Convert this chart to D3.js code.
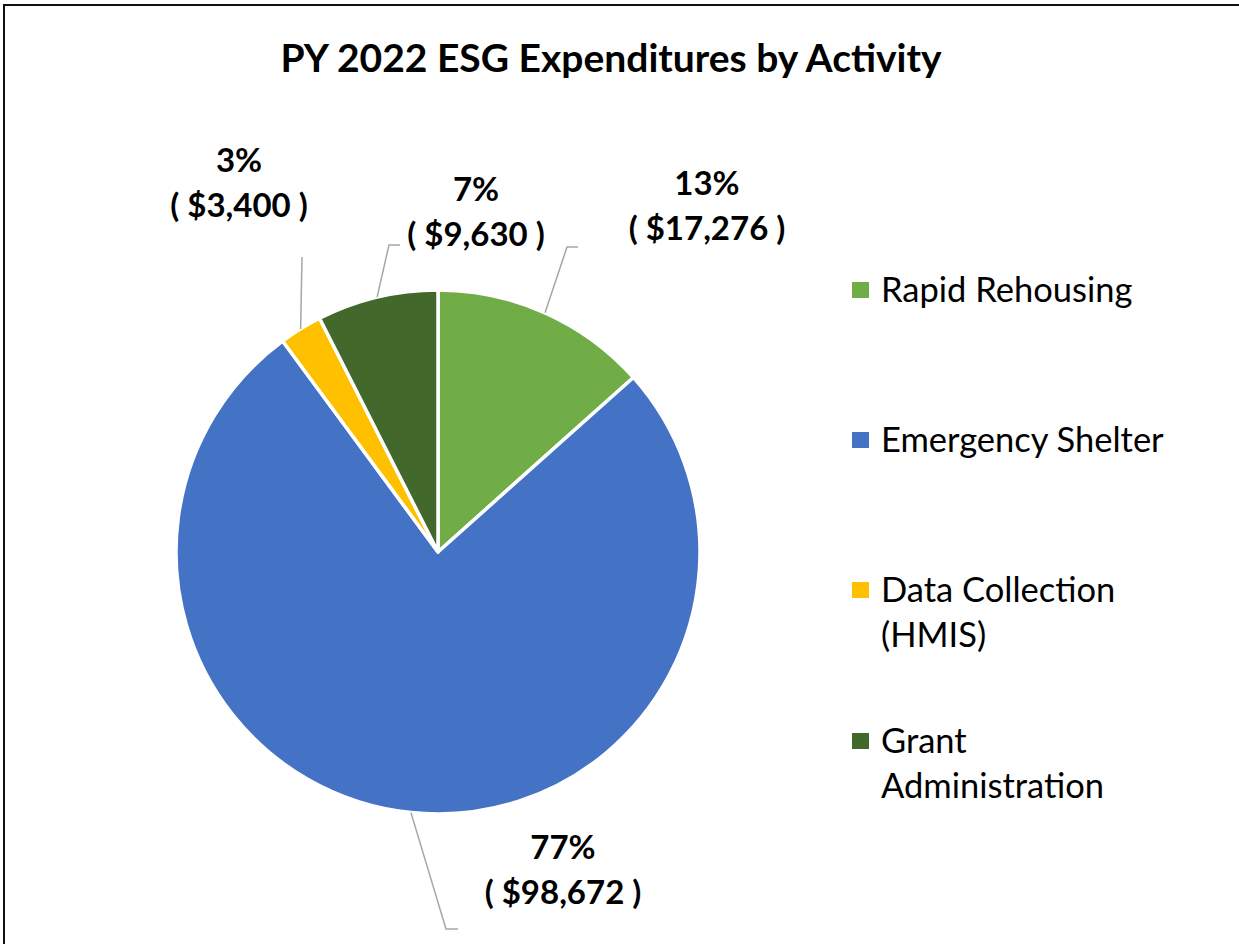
<!DOCTYPE html>
<html>
<head>
<meta charset="utf-8">
<script src="https://cdn.jsdelivr.net/npm/d3@7"></script>
<style>
  body { margin: 0; background: #fff; }
  text { font-family: Lato, "Open Sans", sans-serif; }
</style>
</head>
<body>
<div id="chart"></div>
<script>
// data
let categories = ["Rapid Rehousing", "Emergency Shelter", "Data Collection (HMIS)", "Grant Administration"];
let values = [17276, 98672, 3400, 9630];
let colors = ["#70AD47", "#4472C4", "#FFC000", "#43682B"];
let legendLines = [["Rapid Rehousing"], ["Emergency Shelter"], ["Data Collection", "(HMIS)"], ["Grant", "Administration"]];

// label layout (centre of the two-line label, and leader elbow)
let labelPos = [[707, 206], [563, 870], [239, 183], [476, 212]];
let elbows = [[[567, 247], [578, 247]], [[446, 929], [458, 929]], [[302, 257], [302, 257]], [[389, 245], [400, 245]]];

const width = 1239, height = 944;
const cx = 438, cy = 552, radius = 262;

let svg = d3.select('#chart')
    .append("svg")
    .attr("width", width)
    .attr("height", height);

// frame (top and left edges show in the picture)
svg.append("line").attr("x1", 4).attr("y1", 5).attr("x2", width).attr("y2", 5)
    .attr("stroke", "#111").attr("stroke-width", 2);
svg.append("line").attr("x1", 4).attr("y1", 4).attr("x2", 4).attr("y2", height)
    .attr("stroke", "#111").attr("stroke-width", 2);

svg.append("text")
    .attr("x", 611)
    .attr("y", 72)
    .attr("text-anchor", "middle")
    .style("font-size", "39px")
    .style("font-weight", "bold")
    .text("PY 2022 ESG Expenditures by Activity");

let data = categories.map(function(c, i) {
    return { name: c, value: values[i], color: colors[i], idx: i };
});

let total = d3.sum(values);

let pie = d3.pie()
    .sort(null)
    .value(function(d) { return d.value; });

let arc = d3.arc().innerRadius(0).outerRadius(radius);

let g = svg.append("g").attr("transform", `translate(${cx}, ${cy})`);

let arcs = pie(data);

g.selectAll("path.slice")
    .data(arcs)
    .enter()
    .append("path")
    .attr("class", "slice")
    .attr("d", arc)
    .attr("fill", function(d) { return d.data.color; })
    .attr("stroke", "#fff")
    .attr("stroke-width", 3.5)
    .attr("stroke-linejoin", "round");

// leader lines
arcs.forEach(function(d, i) {
    let mid = (d.startAngle + d.endAngle) / 2;
    let px = cx + radius * Math.sin(mid);
    let py = cy - radius * Math.cos(mid);
    let pts = [[px, py]].concat(elbows[i]);
    svg.append("path")
        .attr("d", d3.line()(pts))
        .attr("fill", "none")
        .attr("stroke", "#a6a6a6")
        .attr("stroke-width", 1.5);
});

// data labels
arcs.forEach(function(d, i) {
    let pct = Math.round(d.data.value / total * 100) + "%";
    let amt = "( " + d3.format("$,")(d.data.value) + " )";
    let t = svg.append("text")
        .attr("text-anchor", "middle")
        .style("font-size", "33px")
        .style("font-weight", "bold");
    t.append("tspan").attr("x", labelPos[i][0]).attr("y", labelPos[i][1] - 11).text(pct);
    t.append("tspan").attr("x", labelPos[i][0]).attr("y", labelPos[i][1] + 34).text(amt);
});

// legend
let legendY = [290, 440, 590, 741];
let legend = svg.append("g");
data.forEach(function(d, i) {
    legend.append("rect")
        .attr("x", 852)
        .attr("y", legendY[i] - 8)
        .attr("width", 17)
        .attr("height", 16)
        .attr("fill", d.color);
    let t = legend.append("text")
        .style("font-size", "34.5px");
    legendLines[i].forEach(function(line, j) {
        t.append("tspan")
            .attr("x", 881)
            .attr("y", legendY[i] + 12 + j * 45)
            .text(line);
    });
});
</script>
</body>
</html>
